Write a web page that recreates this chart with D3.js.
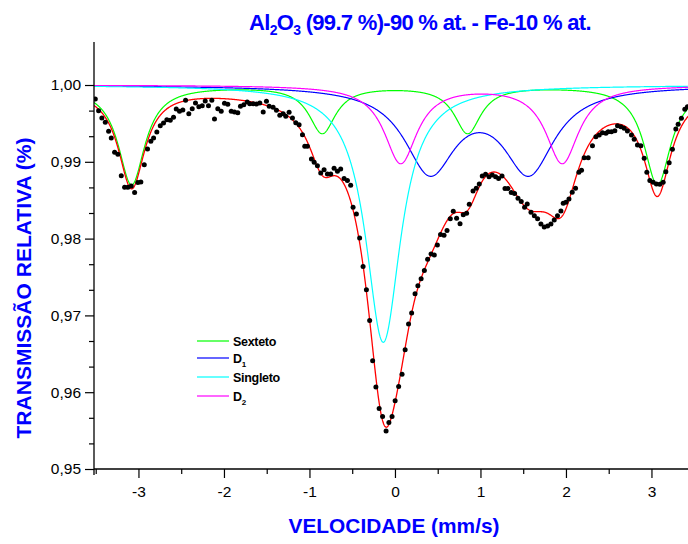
<!DOCTYPE html>
<html>
<head>
<meta charset="utf-8">
<script src="https://cdn.jsdelivr.net/npm/d3@7"></script>
<style>
  html, body { margin: 0; padding: 0; background: #fff; }
  svg { display: block; }
</style>
</head>
<body>
<svg id="chart" width="688" height="544"></svg>
<script>
// Measured Mössbauer spectrum: velocity (mm/s) and relative transmission
const velocity = [-3.505,-3.466,-3.428,-3.388,-3.349,-3.318,-3.279,-3.241,-3.201,-3.162,-3.124,-3.084,-3.045,-3.007,-2.972,-2.932,-2.894,-2.855,-2.823,-2.785,-2.745,-2.707,-2.668,-2.628,-2.590,-2.558,-2.520,-2.481,-2.449,-2.411,-2.371,-2.333,-2.294,-2.254,-2.219,-2.181,-2.142,-2.111,-2.072,-2.032,-1.994,-1.955,-1.915,-1.877,-1.838,-1.807,-1.768,-1.728,-1.698,-1.658,-1.620,-1.581,-1.541,-1.503,-1.471,-1.425,-1.386,-1.347,-1.308,-1.277,-1.238,-1.199,-1.160,-1.121,-1.082,-1.055,-1.024,-0.977,-0.945,-0.907,-0.868,-0.829,-0.790,-0.751,-0.712,-0.673,-0.635,-0.595,-0.556,-0.518,-0.490,-0.451,-0.413,-0.373,-0.334,-0.296,-0.261,-0.223,-0.185,-0.145,-0.104,-0.071,-0.034,0.002,0.043,0.083,0.119,0.159,0.195,0.235,0.268,0.306,0.344,0.382,0.422,0.460,0.496,0.533,0.574,0.609,0.647,0.682,0.721,0.761,0.799,0.838,0.869,0.913,0.951,0.986,1.021,1.060,1.100,1.138,1.177,1.212,1.252,1.287,1.322,1.360,1.399,1.439,1.477,1.516,1.547,1.591,1.630,1.668,1.707,1.746,1.785,1.824,1.863,1.901,1.941,1.968,2.000,2.035,2.073,2.112,2.151,2.182,2.213,2.260,2.310,2.350,2.389,2.427,2.467,2.494,2.532,2.572,2.603,2.642,2.681,2.719,2.766,2.798,2.836,2.876,2.915,2.946,2.981,3.020,3.058,3.098,3.137,3.168,3.207,3.245,3.285,3.312,3.350,3.390,3.421];
const transmission = [0.99818,0.99666,0.99571,0.99515,0.99398,0.99310,0.99124,0.99098,0.98820,0.98669,0.98669,0.98686,0.98599,0.98729,0.98738,0.98963,0.99167,0.99267,0.99310,0.99389,0.99470,0.99506,0.99549,0.99541,0.99580,0.99688,0.99658,0.99675,0.99801,0.99627,0.99692,0.99766,0.99718,0.99731,0.99792,0.99731,0.99801,0.99558,0.99692,0.99658,0.99762,0.99749,0.99658,0.99649,0.99640,0.99723,0.99744,0.99779,0.99757,0.99757,0.99753,0.99766,0.99649,0.99788,0.99723,0.99710,0.99671,0.99606,0.99627,0.99593,0.99645,0.99571,0.99509,0.99483,0.99353,0.99202,0.99202,0.99037,0.98994,0.98950,0.98855,0.98898,0.98842,0.98842,0.98916,0.98877,0.98907,0.98781,0.98755,0.98695,0.98409,0.98322,0.98009,0.97636,0.97333,0.96933,0.96409,0.96068,0.95787,0.95684,0.95494,0.95606,0.95684,0.95889,0.96073,0.96233,0.96552,0.96888,0.97030,0.97281,0.97385,0.97478,0.97584,0.97732,0.97801,0.97786,0.97918,0.98055,0.98044,0.98104,0.98257,0.98357,0.98266,0.98195,0.98312,0.98331,0.98448,0.98621,0.98656,0.98712,0.98816,0.98838,0.98807,0.98829,0.98807,0.98781,0.98816,0.98651,0.98651,0.98599,0.98586,0.98526,0.98482,0.98409,0.98452,0.98344,0.98296,0.98257,0.98191,0.98152,0.98165,0.98191,0.98243,0.98296,0.98361,0.98461,0.98474,0.98517,0.98604,0.98656,0.98864,0.98890,0.99054,0.99054,0.99210,0.99327,0.99349,0.99379,0.99372,0.99392,0.99392,0.99405,0.99470,0.99457,0.99437,0.99401,0.99349,0.99294,0.99219,0.99210,0.99046,0.98864,0.98755,0.98734,0.98712,0.98708,0.98734,0.98872,0.98989,0.99163,0.99428,0.99489,0.99567,0.99684,0.99718];

// Fitted subspectra (Lorentzian lines): centres (mm/s), depths, half width at half maximum (mm/s)
const sextetCenters = [-5.31, -3.08, -0.85, 0.85, 3.07, 5.31];
const sextetDepths = [0.0190, 0.0128, 0.0061, 0.0061, 0.0128, 0.0190];
const sextetHalfWidth = 0.19;

const doublet1Centers = [0.41, 1.567];
const doublet1Depths = [0.0109, 0.0109];
const doublet1HalfWidth = 0.365;

const singletCenters = [-0.137];
const singletDepths = [0.0335];
const singletHalfWidth = 0.25;

const doublet2Centers = [0.067, 1.957];
const doublet2Depths = [0.0101, 0.0101];
const doublet2HalfWidth = 0.235;

const legendLabels = ["Sexteto", "D1", "Singleto", "D2"];
const xTickValues = [-3, -2, -1, 0, 1, 2, 3];
const yTickValues = [0.95, 0.96, 0.97, 0.98, 0.99, 1.00];

const components = [
  { name: "Sexteto", centers: sextetCenters, depths: sextetDepths, hw: sextetHalfWidth, color: "#00ff00" },
  { name: "D1", centers: doublet1Centers, depths: doublet1Depths, hw: doublet1HalfWidth, color: "#0000ff" },
  { name: "Singleto", centers: singletCenters, depths: singletDepths, hw: singletHalfWidth, color: "#00ffff" },
  { name: "D2", centers: doublet2Centers, depths: doublet2Depths, hw: doublet2HalfWidth, color: "#ff00ff" }
];

function absorption(c, v) {
  let s = 0;
  c.centers.forEach((x0, i) => {
    const g2 = c.hw * c.hw;
    s += c.depths[i] * g2 / ((v - x0) * (v - x0) + g2);
  });
  return s;
}

const svg = d3.select("#chart");
const plotLeft = 94, plotTop = 42, plotBottom = 469;
const x = d3.scaleLinear().domain([-3.52, 3.6]).range([plotLeft, plotLeft + 7.12 * 85.5]);
const y = d3.scaleLinear().domain([0.95, 1.0056]).range([plotBottom, plotTop]);

svg.append("defs").append("clipPath").attr("id", "plotClip")
  .append("rect").attr("x", plotLeft).attr("y", plotTop)
  .attr("width", 700 - plotLeft).attr("height", plotBottom - plotTop);

const plot = svg.append("g").attr("clip-path", "url(#plotClip)");

const grid = d3.range(-3.52, 3.6, 0.004);
const line = d3.line().x(d => x(d[0])).y(d => y(d[1]));

components.forEach(c => {
  plot.append("path")
    .attr("d", line(grid.map(v => [v, 1 - absorption(c, v)])))
    .attr("fill", "none").attr("stroke", c.color).attr("stroke-width", 1.2);
});

// Total fit
plot.append("path")
  .attr("d", line(grid.map(v => [v, 1 - d3.sum(components, c => absorption(c, v))])))
  .attr("fill", "none").attr("stroke", "#ff0000").attr("stroke-width", 1.3);

// Measured points
plot.selectAll("circle.pt").data(d3.zip(velocity, transmission)).join("circle")
  .attr("class", "pt")
  .attr("cx", d => x(d[0])).attr("cy", d => y(d[1])).attr("r", 2.5)
  .attr("fill", "#000");

// Axes
const fmtY = d => d3.format(".2f")(d).replace(".", ",");
const yAxis = svg.append("g").attr("transform", `translate(${plotLeft},0)`)
  .call(d3.axisLeft(y).tickValues(yTickValues).tickSize(9).tickPadding(4).tickFormat(fmtY));
const yMinor = svg.append("g").attr("transform", `translate(${plotLeft},0)`)
  .call(d3.axisLeft(y).tickValues(d3.range(0, 16).map(i => 0.95 + i * 0.01 / 3).filter((d, i) => i % 3 !== 0)).tickSize(5).tickFormat(""));
const xAxis = svg.append("g").attr("transform", `translate(0,${plotBottom})`)
  .call(d3.axisBottom(x).tickValues(xTickValues).tickSize(9).tickPadding(8).tickFormat(d => String(d)));
const xMinor = svg.append("g").attr("transform", `translate(0,${plotBottom})`)
  .call(d3.axisBottom(x).tickValues([-3.5, -2.5, -1.5, -0.5, 0.5, 1.5, 2.5, 3.5]).tickSize(5).tickFormat(""));

[yAxis, yMinor, xAxis, xMinor].forEach(g => {
  g.select(".domain").remove();
  g.selectAll("line").attr("stroke", "#000").attr("stroke-width", 1.2);
  g.selectAll("text").attr("fill", "#000")
    .style("font-family", "'Liberation Sans', Arial, sans-serif").style("font-size", "15.5px");
});

svg.append("line").attr("x1", plotLeft).attr("x2", plotLeft).attr("y1", plotTop).attr("y2", plotBottom + 6)
  .attr("stroke", "#000").attr("stroke-width", 1.3);
svg.append("line").attr("x1", plotLeft).attr("x2", 700).attr("y1", plotBottom).attr("y2", plotBottom)
  .attr("stroke", "#000").attr("stroke-width", 1.3);

// Titles
const blue = "#0000ff";
const title = svg.append("text").attr("x", 420).attr("y", 30).attr("text-anchor", "middle")
  .attr("fill", blue).style("font-family", "'Liberation Sans', Arial, sans-serif")
  .style("font-weight", "bold").style("font-size", "22px").style("letter-spacing", "-0.7px");
title.append("tspan").text("Al");
title.append("tspan").attr("dy", 5).style("font-size", "14px").text("2");
title.append("tspan").attr("dy", -5).text("O");
title.append("tspan").attr("dy", 5).style("font-size", "14px").text("3");
title.append("tspan").attr("dy", -5).text(" (99.7 %)-90 % at. - Fe-10 % at.");

svg.append("text").attr("transform", "translate(31,288) rotate(-90)").attr("text-anchor", "middle")
  .attr("fill", blue).style("font-family", "'Liberation Sans', Arial, sans-serif")
  .style("font-weight", "bold").style("font-size", "21px")
  .attr("textLength", 301).attr("lengthAdjust", "spacingAndGlyphs")
  .text("TRANSMISSÃO RELATIVA (%)");

svg.append("text").attr("x", 394).attr("y", 533).attr("text-anchor", "middle")
  .attr("fill", blue).style("font-family", "'Liberation Sans', Arial, sans-serif")
  .style("font-weight", "bold").style("font-size", "21px")
  .attr("textLength", 211).attr("lengthAdjust", "spacingAndGlyphs")
  .text("VELOCIDADE (mm/s)");

// Legend
const legend = svg.append("g");
const legendY = [341, 358, 377, 396];
components.forEach((c, i) => {
  legend.append("line").attr("x1", 197).attr("x2", 229).attr("y1", legendY[i]).attr("y2", legendY[i])
    .attr("stroke", c.color).attr("stroke-width", 1.2);
  const t = legend.append("text").attr("x", 233).attr("y", legendY[i] + 4.5)
    .style("font-family", "'Liberation Sans', Arial, sans-serif").style("font-weight", "bold")
    .style("font-size", "12.5px").style("letter-spacing", "-0.3px").attr("fill", "#000");
  const label = legendLabels[i];
  if (/^D\d$/.test(label)) {
    t.append("tspan").text(label[0]);
    t.append("tspan").attr("dy", 4).style("font-size", "8px").text(label[1]);
  } else {
    t.text(label);
  }
});
</script>
</body>
</html>
